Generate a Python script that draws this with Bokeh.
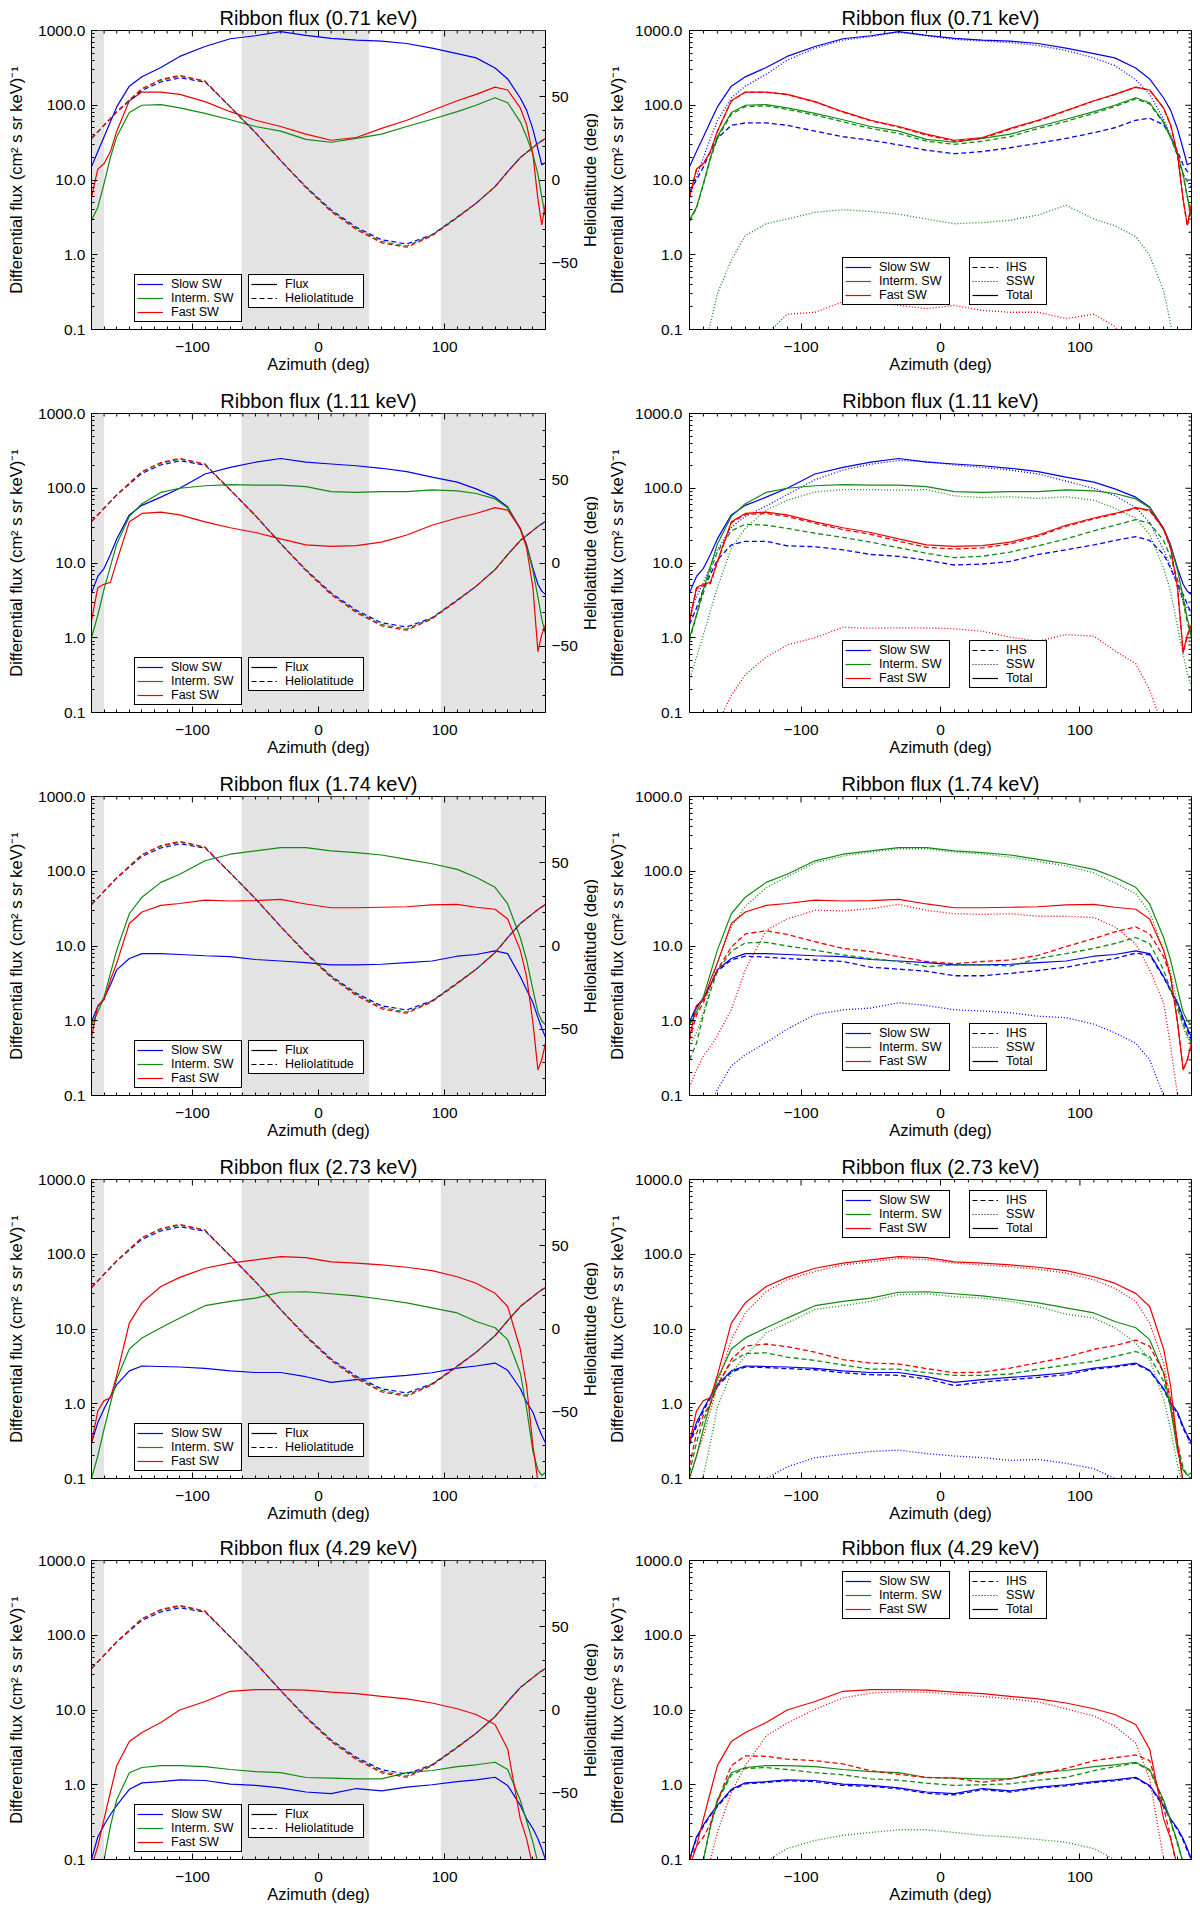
import math

from bokeh.core.properties import value
from bokeh.embed import file_html
from bokeh.layouts import gridplot
from bokeh.models import (BoxAnnotation, FixedTicker, Legend, LegendItem, LinearAxis,
                          LinearScale, PrintfTickFormatter, Range1d)
from bokeh.plotting import figure
from bokeh.resources import INLINE

FONT = "Liberation Sans"
INK = "#000000"
BLUE = "#0000ee"
GREEN = "#108a10"
RED = "#ee0000"
BAND = "#e3e3e3"
DASH = "5 3"
DOT = "1 2"

# azimuth grid (deg) shared by all curves
AZ = [-180, -175, -170, -165, -160, -150, -140, -125, -110, -90, -70, -50, -30, -10,
      10, 30, 50, 70, 90, 110, 125, 140, 150, 160, 165, 170, 174, 177, 180]

# heliolatitude of the ribbon (deg)
LAT_SLOW = [25, 29, 33, 37, 41, 47.5, 54, 59, 61.5, 59, 44, 28.5, 11.7, -4, -18, -28.5, -36,
            -38.5, -33, -22.3, -14, -4, 5, 13.5, 16.5, 19.5, 22, 23.5, 25]
LAT_INTERM = [25, 29, 33, 37, 41, 48, 55, 60, 62.5, 59.5, 44, 28.5, 11.7, -4.3, -18.6, -29.3,
              -37, -39.8, -33.2, -22.5, -14, -4, 5, 13.5, 16.5, 19.5, 22, 23.5, 25]
LAT_FAST = [25, 29, 33, 37, 41, 48, 55, 60.5, 63, 59.5, 44, 28.5, 11.7, -4.6, -19, -29.8, -37.8,
            -40.5, -33.6, -22.7, -14, -4, 5, 13.5, 16.5, 19.5, 22, 23.5, 25]

# 0.71 keV
SLOW_TOT_071 = [15, 24, 38, 60, 95, 180, 240, 320, 450, 610, 775, 850, 965, 860, 785, 745, 720,
                670, 580, 490, 430, 315, 225, 125, 86, 48, 26, 16, 17]
SLOW_IHS_071 = [7, 10, 15, 24, 36, 54, 58, 58, 54, 45, 38, 34, 29.5, 25, 22.5, 24, 27, 31, 36,
                43, 50, 63, 67, 55, 38, 24, 16, 13, 12]
SLOW_SSW_071 = [6.5, 11, 20, 36, 62, 125, 180, 260, 400, 580, 745, 830, 950, 850, 760, 725, 690,
                630, 540, 430, 340, 220, 140, 65, 40, 22, 12.5, 9.5, 8]
INT_TOT_071 = [2.9, 4.3, 9, 20, 38, 80, 100, 102, 92, 78, 64, 52, 45, 35, 32, 36, 41, 52, 65, 82,
               100, 126, 108, 60, 38, 22, 12, 6, 3.2]
INT_IHS_071 = [2.8, 4.2, 8.7, 19, 36, 76, 96, 98, 88, 74, 60, 49, 42, 33, 30, 33, 38, 49, 61, 78,
               96, 122, 104, 58, 37, 21, 11.5, 5.8, 3.1]
INT_SSW_071 = [0.03, 0.04, 0.06, 0.12, 0.3, 0.85, 1.8, 2.6, 3.0, 3.7, 4.0, 3.8, 3.5, 3.0, 2.6,
               2.7, 2.9, 3.4, 4.6, 3.0, 2.45, 1.75, 0.98, 0.33, 0.12, 0.05, 0.03, 0.02, 0.02]
FAST_TOT_071 = [5.9, 14, 16.6, 24, 45, 115, 150, 150, 140, 112, 82, 63, 52, 41, 34, 37, 49, 63,
                85, 115, 140, 175, 160, 92, 55, 22, 5.5, 2.5, 4.8]
FAST_IHS_071 = [5.8, 13.8, 16.4, 23.8, 44.5, 114, 149, 149, 139, 111, 81, 62, 51, 40, 33, 36, 48,
                62, 84, 114, 139, 174, 159, 91, 54, 21.8, 5.4, 2.4, 4.7]
FAST_SSW_071 = [0.02, 0.02, 0.02, 0.03, 0.03, 0.03, 0.04, 0.085, 0.16, 0.17, 0.235, 0.235, 0.21,
                0.19, 0.21, 0.18, 0.17, 0.17, 0.14, 0.16, 0.11, 0.05, 0.03, 0.02, 0.02, 0.02,
                0.02, 0.02, 0.02]

# 1.11 keV
SLOW_TOT_111 = [4.0, 6.6, 8.5, 13, 21, 44, 59, 76, 100, 155, 190, 223, 250, 223, 211, 200, 185,
                167, 141, 121, 98, 76, 56, 29, 17.5, 8.5, 5.2, 4.2, 3.8]
SLOW_IHS_111 = [1.5, 2.5, 4.5, 7, 11, 17.5, 19.5, 19.5, 17, 16.5, 15, 13, 12.3, 10.9, 9.4, 9.7,
                10.5, 13, 15, 17.5, 20, 22.5, 20, 13, 8.5, 5.2, 3.8, 2.8, 2.1]
SLOW_SSW_111 = [2.3, 3.5, 5.5, 9, 15, 30, 42, 58, 82, 130, 175, 210, 235, 228, 205, 190, 175, 155,
                125, 100, 80, 55, 35, 15, 9, 5, 3.1, 2.5, 2.2]
INT_TOT_111 = [1.0, 2.0, 4.5, 9, 18, 42, 62, 88, 100, 108, 112, 110, 110, 105, 90, 88, 90, 90, 95,
               92, 85, 72, 55, 28, 17, 8, 3.5, 1.8, 1.1]
INT_IHS_111 = [0.9, 2, 4, 8, 14, 27, 33, 32, 29, 25, 22, 19, 16, 13.5, 11.8, 12.3, 14, 17, 21, 27,
               32, 38, 34, 20, 12, 6, 3, 1.6, 1.0]
INT_SSW_111 = [0.27, 0.55, 1.1, 2.3, 4.7, 15.8, 29, 51, 69, 89, 96, 96, 94, 96, 79, 75, 77, 73,
               77, 69, 54, 40, 24, 8.6, 4.2, 1.4, 0.6, 0.33, 0.22]
FAST_TOT_111 = [1.7, 4.7, 5.2, 5.5, 10.5, 35.5, 46, 48, 44, 35.5, 29.6, 25.6, 21, 17.5, 16.7,
                17.1, 19, 23.7, 32, 40, 46, 55, 51, 29, 16, 4.7, 0.65, 1.1, 1.5]
FAST_IHS_111 = [1.6, 4.5, 5.0, 5.3, 10.2, 34.5, 44.5, 46, 42, 34, 28, 24.2, 19.6, 16.2, 15.4,
                15.9, 18, 22.8, 31, 39, 45, 54, 50, 28.5, 15.6, 4.5, 0.62, 1.05, 1.45]
FAST_SSW_111 = [0.02, 0.03, 0.04, 0.05, 0.07, 0.17, 0.32, 0.55, 0.8, 1.0, 1.38, 1.34, 1.36, 1.35,
                1.32, 1.22, 1.02, 0.9, 1.1, 1.05, 0.67, 0.45, 0.2, 0.06, 0.04, 0.03, 0.02, 0.02,
                0.02]

# 1.74 keV
SLOW_TOT_174 = [0.97, 1.55, 2.0, 3.0, 4.8, 6.8, 7.9, 7.9, 7.7, 7.4, 7.2, 6.6, 6.3, 6.0, 5.6, 5.6,
                5.7, 6.0, 6.3, 7.3, 7.7, 8.6, 7.9, 3.9, 2.6, 1.75, 1.1, 0.8, 0.6]
SLOW_IHS_174 = [0.9, 1.5, 1.95, 3.0, 4.6, 6.5, 7.3, 7.1, 6.8, 6.5, 6.2, 5.2, 4.9, 4.6, 4.0, 4.0,
                4.3, 4.7, 5.2, 6.1, 6.8, 8.0, 7.6, 3.8, 2.5, 1.65, 1.0, 0.75, 0.55]
SLOW_SSW_174 = [0.02, 0.03, 0.05, 0.08, 0.12, 0.25, 0.35, 0.51, 0.77, 1.21, 1.4, 1.48, 1.74, 1.6,
                1.4, 1.35, 1.28, 1.15, 1.1, 0.9, 0.69, 0.5, 0.3, 0.1, 0.05, 0.03, 0.02, 0.02, 0.02]
INT_TOT_174 = [0.88, 1.3, 2.1, 4.3, 8.8, 27, 45, 71, 91, 138, 169, 187, 207, 207, 187, 177, 165,
               144, 126, 106, 83, 61, 36.5, 13, 6.5, 2.6, 1.3, 1.0, 0.88]
INT_IHS_174 = [0.3, 0.5, 1.2, 2.5, 4.6, 8.5, 11, 11.2, 10, 8.8, 7.6, 6.8, 6.2, 5.3, 5.6, 5.6, 5.4,
               6.8, 7.9, 9.3, 10.8, 13, 10.8, 4.8, 2.6, 1.43, 0.9, 0.65, 0.5]
INT_SSW_174 = [0.45, 0.7, 1.3, 2.8, 6, 18, 34, 60, 85, 130, 160, 180, 200, 200, 180, 170, 155, 135,
               118, 95, 70, 50, 28, 9, 4.5, 1.7, 0.8, 0.6, 0.5]
FAST_TOT_174 = [0.6, 1.6, 1.9, 3.5, 5.9, 20, 28.5, 35, 37, 41, 40, 40.5, 42, 36.5, 32.5, 32.5, 33,
                33.5, 35.5, 36, 33, 31, 23, 8.8, 3.9, 0.95, 0.22, 0.3, 0.5]
FAST_IHS_174 = [0.55, 1.2, 1.75, 3.0, 4.8, 9.7, 14.5, 16, 14.3, 11.4, 9.3, 8.4, 7.2, 6.2, 5.8, 6.2,
                6.5, 7.5, 9.8, 12.6, 15.5, 18, 14.6, 7.2, 3.9, 0.95, 0.22, 0.3, 0.5]
FAST_SSW_174 = [0.13, 0.22, 0.34, 0.45, 0.63, 1.4, 4.8, 16.2, 23, 30, 29.5, 31.6, 36, 30, 27, 26.5,
                27, 25, 25, 24, 18, 10.7, 4.8, 1.74, 0.46, 0.1, 0.05, 0.04, 0.03]

# 2.73 keV
SLOW_TOT_273 = [0.3, 0.56, 0.86, 1.25, 1.8, 2.75, 3.2, 3.15, 3.1, 2.97, 2.75, 2.62, 2.62, 2.3,
                1.93, 2.1, 2.25, 2.4, 2.6, 3.0, 3.2, 3.5, 2.8, 1.6, 1.05, 0.77, 0.5, 0.38, 0.3]
SLOW_IHS_273 = [0.28, 0.5, 0.8, 1.2, 1.7, 2.65, 3.1, 3.05, 2.95, 2.85, 2.6, 2.45, 2.4, 2.15, 1.75,
                1.95, 2.1, 2.25, 2.45, 2.9, 3.1, 3.4, 2.75, 1.55, 1.0, 0.73, 0.47, 0.36, 0.29]
SLOW_SSW_273 = [0.02, 0.02, 0.03, 0.03, 0.04, 0.05, 0.07, 0.1, 0.143, 0.19, 0.21, 0.23, 0.24,
                0.215, 0.2, 0.19, 0.175, 0.18, 0.16, 0.135, 0.1, 0.06, 0.04, 0.03, 0.02, 0.02,
                0.02, 0.02, 0.02]
INT_TOT_273 = [0.1, 0.2, 0.46, 1.0, 2.15, 5.4, 7.6, 10.4, 14, 20.5, 23.4, 25.9, 31, 31.5, 29.6,
               27.7, 25, 22.4, 19.2, 16.4, 12.6, 10.4, 7.2, 2.6, 0.87, 0.23, 0.13, 0.11, 0.12]
INT_IHS_273 = [0.12, 0.3, 0.6, 1.0, 1.8, 3.6, 4.7, 4.8, 4.2, 3.8, 3.3, 2.9, 2.9, 2.6, 2.4, 2.4,
               2.5, 2.9, 3.3, 3.7, 4.3, 5.0, 4.3, 2.0, 0.9, 0.3, 0.14, 0.11, 0.1]
INT_SSW_273 = [0.04, 0.07, 0.11, 0.3, 0.9, 2.6, 4.35, 8.9, 12, 18.3, 20.5, 23.4, 28.8, 29.6, 27,
               25.9, 23.4, 20, 15.8, 14, 10.4, 6.5, 3.9, 1.16, 0.46, 0.15, 0.08, 0.05, 0.04]
FAST_TOT_273 = [0.3, 0.8, 1.1, 1.2, 2.4, 12, 22.4, 37, 49, 65, 76, 84, 93, 90, 79, 76, 72, 67,
                60.5, 50, 41, 30, 20, 5.4, 1.74, 0.28, 0.09, 0.08, 0.1]
FAST_IHS_273 = [0.15, 0.4, 0.7, 1.0, 1.7, 3.9, 5.9, 6.3, 5.8, 4.9, 3.9, 3.5, 3.4, 2.95, 2.6, 2.65,
                3.0, 3.55, 4.2, 5.35, 6.0, 7.1, 5.9, 2.6, 1.16, 0.28, 0.09, 0.08, 0.09]
FAST_SSW_273 = [0.1, 0.2, 0.37, 0.8, 1.74, 7.2, 16.4, 31.6, 45.6, 59, 72, 79, 88, 85, 76, 72, 68,
                63, 56, 45.6, 35, 23.4, 12, 3.5, 1.16, 0.28, 0.08, 0.06, 0.06]

# 4.29 keV
SLOW_TOT_429 = [0.1, 0.2, 0.29, 0.4, 0.53, 0.87, 1.06, 1.1, 1.16, 1.14, 1.02, 0.98, 0.91, 0.8,
                0.76, 0.89, 0.83, 0.93, 1.0, 1.1, 1.16, 1.26, 0.98, 0.53, 0.35, 0.26, 0.19, 0.14,
                0.1]
SLOW_IHS_429 = [0.1, 0.19, 0.28, 0.39, 0.51, 0.84, 1.03, 1.07, 1.13, 1.1, 0.98, 0.95, 0.88, 0.77,
                0.73, 0.86, 0.8, 0.9, 0.97, 1.07, 1.13, 1.23, 0.95, 0.51, 0.34, 0.25, 0.18, 0.13,
                0.1]
INT_TOT_429 = [0.03, 0.05, 0.1, 0.28, 0.63, 1.45, 1.7, 1.8, 1.8, 1.75, 1.6, 1.5, 1.45, 1.25, 1.23,
               1.2, 1.2, 1.45, 1.55, 1.75, 1.85, 2.0, 1.6, 0.62, 0.33, 0.17, 0.09, 0.06, 0.05]
INT_IHS_429 = [0.03, 0.05, 0.1, 0.27, 0.6, 1.35, 1.65, 1.7, 1.6, 1.45, 1.36, 1.2, 1.15, 1.05,
               0.98, 1.0, 1.03, 1.15, 1.25, 1.55, 1.75, 1.95, 1.55, 0.6, 0.32, 0.16, 0.09, 0.06,
               0.05]
INT_SSW_429 = [0.01, 0.01, 0.02, 0.02, 0.03, 0.04, 0.06, 0.095, 0.14, 0.18, 0.21, 0.23, 0.25, 0.25,
               0.23, 0.21, 0.2, 0.185, 0.17, 0.14, 0.1, 0.06, 0.04, 0.02, 0.02, 0.01, 0.01, 0.01,
               0.01]
FAST_TOT_429 = [0.08, 0.15, 0.35, 0.8, 1.8, 3.8, 5.0, 6.8, 10, 13, 17.8, 18.7, 18.7, 18.5, 17.3,
                16.6, 15.2, 14.1, 12.4, 10.4, 8.7, 6.4, 3.0, 0.35, 0.19, 0.08, 0.05, 0.04, 0.04]
FAST_IHS_429 = [0.1, 0.15, 0.2, 0.3, 0.6, 1.8, 2.44, 2.4, 2.2, 2.1, 1.9, 1.54, 1.38, 1.25, 1.23,
                1.08, 1.2, 1.38, 1.65, 2.1, 2.3, 2.5, 2.1, 0.5, 0.2, 0.07, 0.04, 0.03, 0.03]
FAST_SSW_429 = [0.02, 0.03, 0.05, 0.1, 0.23, 0.8, 1.8, 4.5, 6.7, 10.2, 14.5, 16.8, 17.6, 17.3,
                16.2, 15.2, 14.1, 12.8, 10.4, 8.3, 6.1, 3.6, 1.2, 0.1, 0.04, 0.02, 0.02, 0.02,
                0.02]

# grey azimuth sectors in the left panels
BANDS = [(-180, -170), (-61, 40), (97, 180)]

# (energy, slow, interm, fast) with each wind as (IHS, SSW, Total); legend on top?
ROWS = [
    ("0.71", (SLOW_IHS_071, SLOW_SSW_071, SLOW_TOT_071), (INT_IHS_071, INT_SSW_071, INT_TOT_071),
     (FAST_IHS_071, FAST_SSW_071, FAST_TOT_071), False),
    ("1.11", (SLOW_IHS_111, SLOW_SSW_111, SLOW_TOT_111), (INT_IHS_111, INT_SSW_111, INT_TOT_111),
     (FAST_IHS_111, FAST_SSW_111, FAST_TOT_111), False),
    ("1.74", (SLOW_IHS_174, SLOW_SSW_174, SLOW_TOT_174), (INT_IHS_174, INT_SSW_174, INT_TOT_174),
     (FAST_IHS_174, FAST_SSW_174, FAST_TOT_174), False),
    ("2.73", (SLOW_IHS_273, SLOW_SSW_273, SLOW_TOT_273), (INT_IHS_273, INT_SSW_273, INT_TOT_273),
     (FAST_IHS_273, FAST_SSW_273, FAST_TOT_273), True),
    ("4.29", (SLOW_IHS_429, None, SLOW_TOT_429), (INT_IHS_429, INT_SSW_429, INT_TOT_429),
     (FAST_IHS_429, FAST_SSW_429, FAST_TOT_429), True),
]

X_MAJOR = [-100, 0, 100]
X_MINOR = [a for a in range(-170, 180, 10) if a not in X_MAJOR]
Y_MAJOR = [0.1, 1, 10, 100, 1000]
Y_MINOR = [m * d for d in (0.1, 1, 10, 100) for m in range(2, 10)]

ROW_HEIGHTS = [383, 383, 383, 381, 378]
TOP = 30
FRAME_H = 299
LEFT_W, LEFT_FRAME, LEFT_BL = 580, 456, 91
GAP_W = 18
RIGHT_W, RIGHT_FRAME, RIGHT_BL = 602, 502, 91


def style_axis(ax, major=6, minor=3):
    ax.major_tick_in = major
    ax.major_tick_out = 0
    ax.minor_tick_in = minor
    ax.minor_tick_out = 0
    ax.axis_line_color = INK
    ax.major_tick_line_color = INK
    ax.minor_tick_line_color = INK
    ax.major_label_text_font = FONT
    ax.major_label_text_font_size = "15.5px"
    ax.major_label_text_color = INK
    ax.axis_label_text_font = FONT
    ax.axis_label_text_font_size = "16.5px"
    ax.axis_label_text_font_style = "normal"
    ax.axis_label_text_color = INK


def edge_ticks(p, xs, ys, length, angle):
    # inward tick marks on the unlabelled frame edges
    p.ray(x=xs, y=ys, length=length, length_units="screen", angle=angle,
          line_color=INK, line_width=1)


def make_frame(energy, width, height, left, frame_w, y_standoff, label_standoff):
    p = figure(width=width, height=height, x_range=Range1d(-180, 180),
               y_range=Range1d(0.1, 1000), y_axis_type="log",
               output_backend="svg", toolbar_location=None,
               min_border_left=left, min_border_right=width - left - frame_w,
               min_border_top=TOP, min_border_bottom=height - TOP - FRAME_H)
    p.title.text = "Ribbon flux (%s keV)" % energy
    p.title.align = "center"
    p.title.text_font = FONT
    p.title.text_font_size = "20px"
    p.title.text_font_style = "normal"
    p.title.text_color = INK
    p.title.standoff = 4
    p.outline_line_color = INK
    p.xgrid.visible = False
    p.ygrid.visible = False

    xa = p.xaxis[0]
    style_axis(xa)
    xa.ticker = FixedTicker(ticks=X_MAJOR, minor_ticks=X_MINOR)
    xa.major_label_overrides = {-100: "\u2212100", 0: "0", 100: "100"}
    xa.axis_label = "Azimuth (deg)"
    xa.major_label_standoff = 12
    xa.axis_label_standoff = 0

    ya = p.yaxis[0]
    style_axis(ya)
    ya.ticker = FixedTicker(ticks=Y_MAJOR, minor_ticks=Y_MINOR)
    ya.formatter = PrintfTickFormatter(format="%.1f")
    ya.axis_label = "Differential flux (cm\u00b2 s sr keV)\u207b\u00b9"
    ya.major_label_standoff = y_standoff
    ya.axis_label_standoff = label_standoff

    edge_ticks(p, X_MAJOR, [1000] * len(X_MAJOR), 6, -math.pi / 2)
    edge_ticks(p, X_MINOR, [1000] * len(X_MINOR), 3, -math.pi / 2)
    return p


def add_legend(p, entries, x, y, label_width):
    items = []
    for label, color, dash in entries:
        # off-frame stand-in so the legend has a line to show
        r = p.line(x=[-400, -390], y=[1, 1], line_color=color, line_width=1.2, line_dash=dash)
        items.append(LegendItem(label=label, renderers=[r]))
    legend = Legend(items=items, location=(x, y), orientation="vertical",
                    border_line_color=INK, border_line_width=1, border_line_alpha=1,
                    background_fill_color="white", background_fill_alpha=1,
                    label_text_font=FONT, label_text_font_size="12.5px", label_text_color=INK,
                    glyph_width=26, glyph_height=12, label_height=12, label_width=label_width,
                    label_standoff=8, spacing=0, padding=2, margin=0)
    p.add_layout(legend, "center")


WIND_ENTRIES = [("Slow SW", BLUE, "solid"), ("Interm. SW", GREEN, "solid"),
                ("Fast SW", RED, "solid")]


def left_panel(energy, slow, interm, fast, height):
    p = make_frame(energy, LEFT_W, height, LEFT_BL, LEFT_FRAME, 6, 10)
    for lo, hi in BANDS:
        p.add_layout(BoxAnnotation(left=lo, right=hi, fill_color=BAND, fill_alpha=1,
                                   line_color=None, level="underlay"))
    p.extra_y_ranges = {"lat": Range1d(-90, 90)}
    p.extra_y_scales = {"lat": LinearScale()}
    lat_axis = LinearAxis(y_range_name="lat",
                          ticker=FixedTicker(ticks=[-50, 0, 50],
                                             minor_ticks=[a for a in range(-80, 90, 10)
                                                          if a % 50]))
    style_axis(lat_axis)
    lat_axis.major_label_overrides = {-50: "\u221250", 0: "0", 50: "50"}
    lat_axis.major_label_standoff = 6
    p.add_layout(lat_axis, "right")

    for series, color in ((slow, BLUE), (interm, GREEN), (fast, RED)):
        p.line(AZ, series[2], line_color=color, line_width=1.2)
    for lat, color in ((LAT_SLOW, BLUE), (LAT_INTERM, GREEN), (LAT_FAST, RED)):
        p.line(AZ, lat, y_range_name="lat", line_color=color, line_width=1.2, line_dash=DASH)

    add_legend(p, WIND_ENTRIES, 43, 7, 68)
    add_legend(p, [("Flux", INK, "solid"), ("Heliolatitude", INK, DASH)], 157, 21, 76)
    return p


def lat_title(height):
    # narrow strip carrying the right-hand axis title, reading upwards
    p = figure(width=GAP_W, height=height, x_range=Range1d(-1, 1), y_range=Range1d(-1, 1),
               output_backend="svg", toolbar_location=None,
               x_axis_location=None, y_axis_location=None,
               min_border_left=0, min_border_right=0,
               min_border_top=TOP, min_border_bottom=height - TOP - FRAME_H)
    p.outline_line_color = None
    p.grid.visible = False
    p.text(x=[0], y=[0], text=["Heliolatitude (deg)"], angle=math.pi / 2,
           text_align="center", text_baseline="middle", text_font=value(FONT),
           text_font_size="16.5px", text_color=INK)
    return p


def right_panel(energy, slow, interm, fast, legend_top, height):
    p = make_frame(energy, RIGHT_W, height, RIGHT_BL, RIGHT_FRAME, 7, 6)
    edge_ticks(p, [180] * len(Y_MAJOR), Y_MAJOR, 6, math.pi)
    edge_ticks(p, [180] * len(Y_MINOR), Y_MINOR, 3, math.pi)

    for series, color in ((slow, BLUE), (interm, GREEN), (fast, RED)):
        ihs, ssw, tot = series
        p.line(AZ, ihs, line_color=color, line_width=1.3, line_dash=DASH)
        if ssw is not None:
            p.line(AZ, ssw, line_color=color, line_width=1.3, line_dash=DOT)
        p.line(AZ, tot, line_color=color, line_width=1.2)

    y = 240 if legend_top else 24
    add_legend(p, WIND_ENTRIES, 153, y, 68)
    add_legend(p, [("IHS", INK, DASH), ("SSW", INK, DOT), ("Total", INK, "solid")], 280, y, 38)
    return p


grid = []
for (energy, slow, interm, fast, legend_top), h in zip(ROWS, ROW_HEIGHTS):
    grid.append([left_panel(energy, slow, interm, fast, h), lat_title(h),
                 right_panel(energy, slow, interm, fast, legend_top, h)])

layout = gridplot(grid, toolbar_location=None)

open("out.html", "w").write(file_html(layout, INLINE))
